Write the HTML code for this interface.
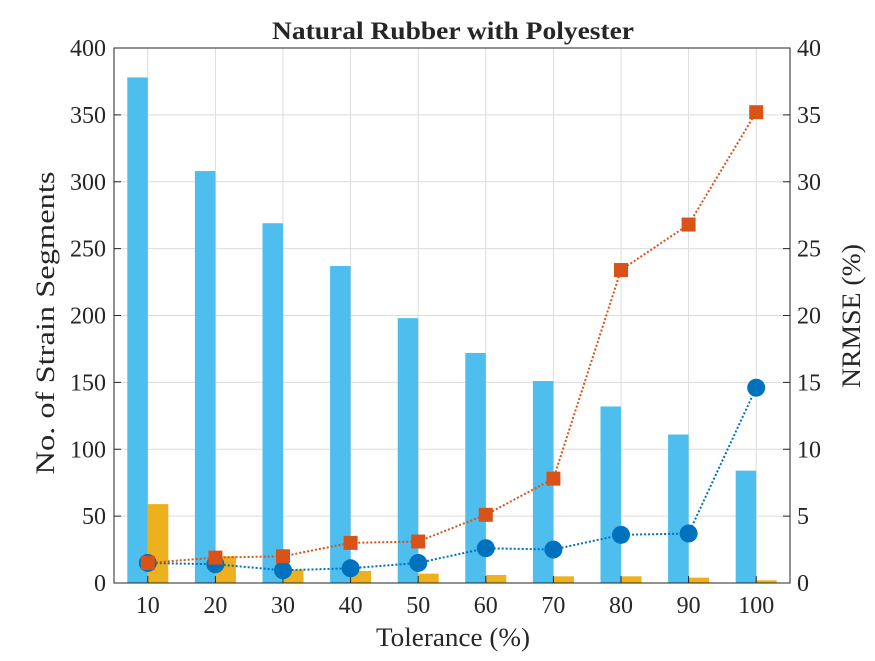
<!DOCTYPE html>
<html><head><meta charset="utf-8"><style>
body{margin:0;background:#fff}
svg text{font-family:"Liberation Serif",serif;fill:#262626}
</style></head><body>
<svg id="chart" width="875" height="656" xmlns="http://www.w3.org/2000/svg"></svg>
<script>
const categories=[10,20,30,40,50,60,70,80,90,100];
const segmentsBlue=[378,308,269,237,198,172,151,132,111,84];
const segmentsYellow=[59,20,10,9,7,6,5,5,4,2];
const nrmseRed=[1.5,1.9,2.0,3.0,3.1,5.1,7.8,23.4,26.8,35.2];
const nrmseBlue=[1.5,1.4,0.95,1.1,1.5,2.6,2.5,3.6,3.7,14.6];
const leftTicks=[0,50,100,150,200,250,300,350,400];
const rightTicks=[0,5,10,15,20,25,30,35,40];

const svg=document.getElementById('chart');
const NS='http://www.w3.org/2000/svg';
const L=114,R=790,T=48,B=583;
const step=(R-L)/categories.length;
const xc=i=>L+step*(i+0.5);
const yL=v=>B-(v/400)*(B-T);
const yR=v=>B-(v/40)*(B-T);
function el(tag,attrs,parent){const e=document.createElementNS(NS,tag);for(const k in attrs)e.setAttribute(k,attrs[k]);(parent||svg).appendChild(e);return e;}

const grid=el('g',{});


leftTicks.forEach(t=>{el('line',{x1:L,x2:R,y1:yL(t),y2:yL(t),stroke:'#dcdcdc','stroke-width':1},grid);});
categories.forEach((c,i)=>{el('line',{x1:xc(i),x2:xc(i),y1:T,y2:B,stroke:'#dcdcdc','stroke-width':1},grid);});

const bars=el('g',{});


const bw=20.5;
categories.forEach((c,i)=>{
  const b=el('rect',{x:xc(i)-bw,y:yL(segmentsBlue[i]),width:bw,height:B-yL(segmentsBlue[i]),fill:'#4dbeee'},bars);
  
  
  const y=el('rect',{x:xc(i),y:yL(segmentsYellow[i]),width:bw,height:B-yL(segmentsYellow[i]),fill:'#edb120'},bars);
  
  
});

const ax=el('g',{});


el('rect',{x:L,y:T,width:R-L,height:B-T,fill:'none',stroke:'#262626','stroke-width':1},ax);
leftTicks.forEach(t=>{
  el('line',{x1:L,x2:L+7,y1:yL(t),y2:yL(t),stroke:'#262626'},ax);
  const tx=el('text',{x:L-8,y:yL(t)+8,'text-anchor':'end','font-size':24},ax);tx.textContent=t;
  
  
});
rightTicks.forEach(t=>{
  el('line',{x1:R-7,x2:R,y1:yR(t),y2:yR(t),stroke:'#262626'},ax);
  const tx=el('text',{x:R+7,y:yR(t)+8,'text-anchor':'start','font-size':24},ax);tx.textContent=t;
  
  
});
categories.forEach((c,i)=>{
  el('line',{x1:xc(i),x2:xc(i),y1:B,y2:B-7,stroke:'#262626'},ax);
  const tx=el('text',{x:xc(i),y:B+30,'text-anchor':'middle','font-size':24},ax);tx.textContent=c;
  
  
});

function series(vals,color,kind,name){
  const g=el('g',{});
  
  
  el('polyline',{points:vals.map((v,i)=>xc(i)+','+yR(v)).join(' '),fill:'none',stroke:color,'stroke-width':2,'stroke-dasharray':'2,2'},g);
  vals.forEach((v,i)=>{
    let m;
    if(kind==='circle') m=el('circle',{cx:xc(i),cy:yR(v),r:9,fill:color},g);
    else m=el('rect',{x:xc(i)-7,y:yR(v)-7,width:14,height:14,fill:color},g);
    
    
  });
}
series(nrmseBlue,'#0072bd','circle','nrmse-blue-series');
series(nrmseRed,'#d95319','square','nrmse-red-series');
</script>
<svg style="position:absolute;left:0;top:0" width="875" height="656" xmlns="http://www.w3.org/2000/svg">
<text x="453" y="39" text-anchor="middle" font-size="25" font-weight="bold" textLength="362" lengthAdjust="spacingAndGlyphs" style="font-family:'Liberation Serif',serif">Natural Rubber with Polyester</text>
<text x="453" y="646" text-anchor="middle" font-size="26" fill="#262626" textLength="154" lengthAdjust="spacingAndGlyphs" style="font-family:'Liberation Serif',serif">Tolerance (%)</text>
<text transform="translate(54,323) rotate(-90)" text-anchor="middle" font-size="26" fill="#262626" textLength="303" lengthAdjust="spacingAndGlyphs" style="font-family:'Liberation Serif',serif">No. of Strain Segments</text>
<text transform="translate(860,316) rotate(-90)" text-anchor="middle" font-size="26" fill="#262626" textLength="144" lengthAdjust="spacingAndGlyphs" style="font-family:'Liberation Serif',serif">NRMSE (%)</text>
</svg>
</body></html>
